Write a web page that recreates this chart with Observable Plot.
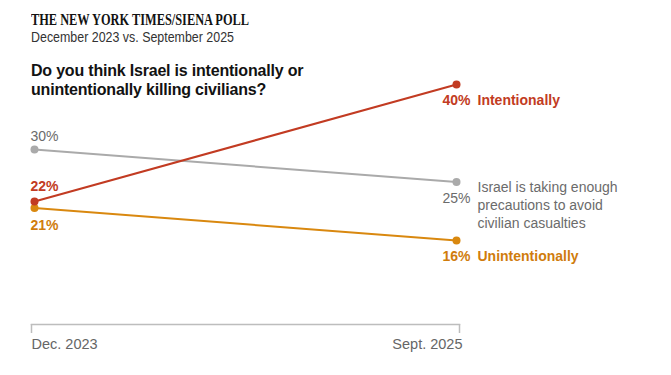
<!DOCTYPE html>
<html>
<head>
<meta charset="utf-8">
<script src="https://cdn.jsdelivr.net/npm/d3@7"></script>
<script src="https://cdn.jsdelivr.net/npm/@observablehq/plot@0.6"></script>
<style>
  html, body { margin: 0; padding: 0; background: #fff; }
  #wrap { position: relative; width: 671px; height: 375px; overflow: hidden; }
  #chart { position: absolute; left: 0; top: 0; }
  .hdr { position: absolute; left: 31px; white-space: nowrap; transform-origin: 0 0; }
  #title { top: 12.3px; font: bold 16px/16px "Liberation Serif", "Times New Roman", serif; color: #121212; }
  #subtitle { top: 29.9px; font: 14px/14px "Liberation Sans", Arial, sans-serif; color: #333; }
  #question { top: 61px; font: bold 16px/19px "Liberation Sans", Arial, sans-serif; color: #121212; letter-spacing: -0.2px; }
</style>
</head>
<body>
<div id="wrap">
  <div id="chart"></div>
  <div class="hdr" id="title">THE NEW YORK TIMES/SIENA POLL</div>
  <div class="hdr" id="subtitle">December 2023 vs. September 2025</div>
  <div class="hdr" id="question">Do you think Israel is intentionally or<br>unintentionally killing civilians?</div>
</div>
<script>
// ---- data ----
const periods = ["Dec. 2023", "Sept. 2025"];
const seriesKeys = ["precautions", "unintentionally", "intentionally"];
const seriesLabels = ["Israel is taking enough\nprecautions to avoid\ncivilian casualties", "Unintentionally", "Intentionally"];
const precautions = [30, 25];
const unintentionally = [21, 16];
const intentionally = [22, 40];

// ---- styling (not data) ----
const colors = {precautions: "#aaaaaa", unintentionally: "#d9880f", intentionally: "#c23b22"};
const textColors = {precautions: "#6b6b6b", unintentionally: "#d07c0c", intentionally: "#c23b22"};
const weights = {precautions: "normal", unintentionally: "bold", intentionally: "bold"};
const leftDy = {precautions: -12.5, unintentionally: 17.5, intentionally: -15};
const rightDy = {precautions: 17, unintentionally: 16, intentionally: 16};

const valuesByKey = {precautions, unintentionally, intentionally};
const rows = [];
seriesKeys.forEach((k, si) => periods.forEach((p, i) => rows.push({series: k, label: seriesLabels[si], period: p, value: valuesByKey[k][i]})));

const blank = () => "";
const marks = [
  Plot.frame({anchor: "bottom", stroke: "#bdbdbd", strokeWidth: 1.5}),
  Plot.axisX([periods[0]], {anchor: "bottom", tickSize: 9, dx: -3, stroke: "#bdbdbd", strokeWidth: 1.5, tickFormat: blank, label: null}),
  Plot.axisX([periods[1]], {anchor: "bottom", tickSize: 9, dx: 3, stroke: "#bdbdbd", strokeWidth: 1.5, tickFormat: blank, label: null}),
  Plot.text([periods[0]], {x: d => d, frameAnchor: "bottom", dy: 24.5, dx: -3, textAnchor: "start", fill: "#666", fontSize: 14.5}),
  Plot.text([periods[1]], {x: d => d, frameAnchor: "bottom", dy: 24.5, dx: 6, textAnchor: "end", fill: "#666", fontSize: 14.5}),
  Plot.line(rows, {x: "period", y: "value", z: "series", stroke: "series", strokeWidth: 2})
];
seriesKeys.forEach(k => {
  marks.push(Plot.dot(rows.filter(d => d.series === k), {x: "period", y: "value", r: 4, fill: colors[k]}));
});
seriesKeys.forEach(k => {
  const first = rows.filter(d => d.series === k && d.period === periods[0]);
  const last = rows.filter(d => d.series === k && d.period === periods[1]);
  marks.push(Plot.text(first, {x: "period", y: "value", text: d => d.value + "%", dx: -4, dy: leftDy[k], textAnchor: "start", fill: textColors[k], fontWeight: weights[k], fontSize: 14}));
  marks.push(Plot.text(last, {x: "period", y: "value", text: d => d.value + "%", dx: 14, dy: rightDy[k], textAnchor: "end", fill: textColors[k], fontWeight: weights[k], fontSize: 14}));
  if (k === "precautions") {
    marks.push(Plot.text(last, {x: "period", y: "value", text: "label", dx: 21, dy: -3, lineAnchor: "top", lineHeight: 18 / 14, textAnchor: "start", fill: textColors[k], fontWeight: weights[k], fontSize: 14}));
  } else {
    marks.push(Plot.text(last, {x: "period", y: "value", text: "label", dx: 21, dy: rightDy[k], textAnchor: "start", fill: textColors[k], fontWeight: weights[k], fontSize: 14}));
  }
});

const chart = Plot.plot({
  width: 671,
  height: 375,
  marginTop: 0,
  marginLeft: 31,
  marginRight: 212,
  marginBottom: 51,
  style: {fontFamily: "'Liberation Sans', Arial, sans-serif", fontSize: "14px", background: "transparent", overflow: "visible"},
  x: {type: "point", domain: periods, range: [34, 456], padding: 0, axis: null},
  y: {domain: [16, 40], range: [240, 84], axis: null},
  color: {domain: seriesKeys, range: seriesKeys.map(k => colors[k])},
  marks
});
document.getElementById("chart").appendChild(chart);

// fit header widths to the reference's narrow newspaper faces
function fit(id, w) {
  const el = document.getElementById(id);
  const cur = el.getBoundingClientRect().width;
  if (cur > 0) el.style.transform = `scaleX(${w / cur})`;
}
fit("title", 218);
fit("subtitle", 203);
</script>
</body>
</html>
